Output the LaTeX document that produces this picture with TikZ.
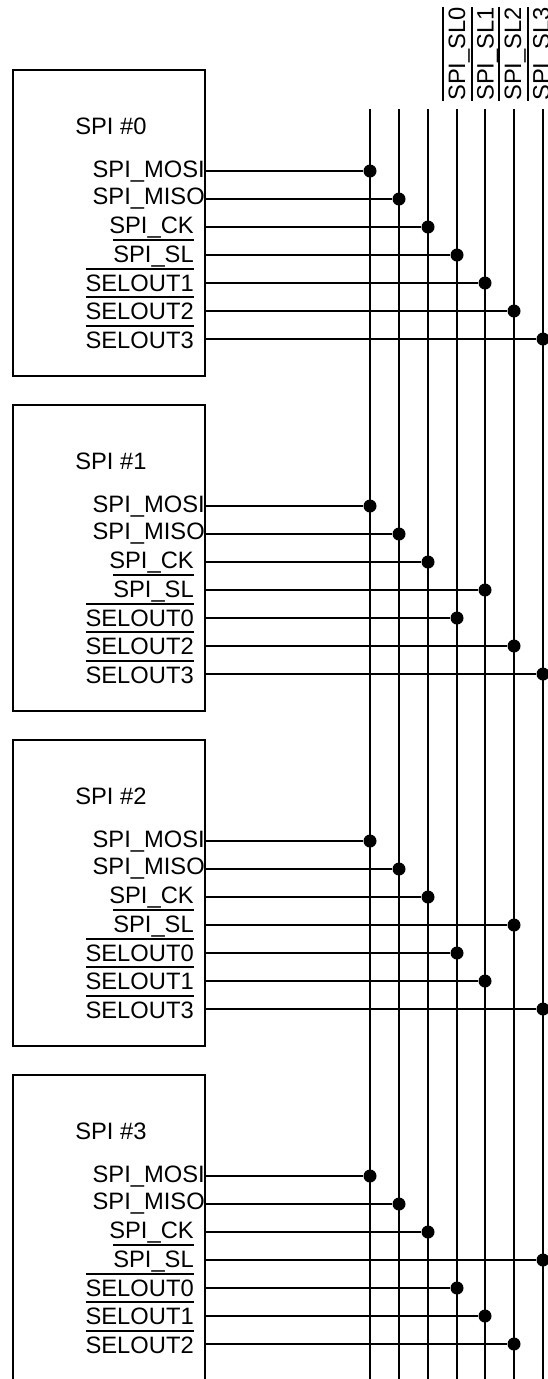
\documentclass[tikz,border=0pt]{standalone}
\usepackage{fontspec}
\setmainfont{Liberation Sans}
\tikzset{
  wire/.style={line width=1.5pt},
  spibox/.style={draw, line width=1.5pt, minimum width=192*0.75pt, minimum height=306*0.75pt, inner sep=0pt, outer sep=0pt},
  dot/.style={circle, fill=black, inner sep=0pt, minimum size=13*0.75pt},
  pin/.style={font=\fontsize{17.8pt}{20pt}\selectfont, inner sep=0pt, anchor=base east},
  title/.style={font=\fontsize{17.8pt}{20pt}\selectfont, inner sep=0pt, anchor=base west},
  buslabel/.style={font=\fontsize{17.8pt}{20pt}\selectfont, inner sep=0pt, anchor=base west, rotate=90}
}
\newcommand{\barred}[1]{\vbox{\hrule height 1.5pt\kern 3.2pt\hbox{#1}}}
% one SPI block: top edge, number, bus of SPI_SL, three select labels, their three buses
\newcommand{\spiblock}[9]{
  \node[spibox, anchor=north west] (spi#2) at (13,#1) {};
  \node[title] (spi#2title) at (75,#1+64) {SPI \##2};
  \node[pin] (spi#2mosi) at (205,#1+107) {SPI\_MOSI};
  \node[pin] (spi#2miso) at (205,#1+134) {SPI\_MISO};
  \node[pin] (spi#2ck) at (194,#1+163) {SPI\_CK};
  \node[pin] (spi#2sl) at (194,#1+192) {\barred{SPI\_SL}};
  \node[pin] (spi#2sela) at (194,#1+221) {\barred{SELOUT#4}};
  \node[pin] (spi#2selb) at (194,#1+249) {\barred{SELOUT#5}};
  \node[pin] (spi#2selc) at (194,#1+278) {\barred{SELOUT#6}};
  \foreach \bus/\row/\off in {0/0/101, 1/1/129, 2/2/157, #3/3/185, #7/4/213, #8/5/241, #9/6/269} {
    \node[dot] (spi#2dot\row) at (bus\bus |- 0,#1+\off) {};
    \draw[wire] (spi#2.east |- spi#2dot\row) -- (spi#2dot\row);
  }
}
\begin{document}
\begin{tikzpicture}[x=0.75pt, y=-0.75pt]
    \useasboundingbox (0,0) rectangle (547,1379);

    % --- Bus lines ---
    \foreach \bus/\busx in {0/370, 1/399, 2/428, 3/457, 4/485, 5/514, 6/543} {
        \coordinate (bus\bus) at (\busx,109);
        \coordinate (busend\bus) at (\busx,1379);
        \draw[wire] (bus\bus) -- (busend\bus);
    }

    % --- Bus labels ---
    \node[buslabel] (sl0) at (465,101) {\barred{SPI\_SL0}};
    \node[buslabel] (sl1) at (493.5,101) {\barred{SPI\_SL1}};
    \node[buslabel] (sl2) at (521,101) {\barred{SPI\_SL2}};
    \node[buslabel] (sl3) at (549.5,101) {\barred{SPI\_SL3}};

    % --- SPI blocks ---
    \spiblock{70}{0}{3}{1}{2}{3}{4}{5}{6}
    \spiblock{405}{1}{4}{0}{2}{3}{3}{5}{6}
    \spiblock{740}{2}{5}{0}{1}{3}{3}{4}{6}
    \spiblock{1075}{3}{6}{0}{1}{2}{3}{4}{5}
\end{tikzpicture}
\end{document}
